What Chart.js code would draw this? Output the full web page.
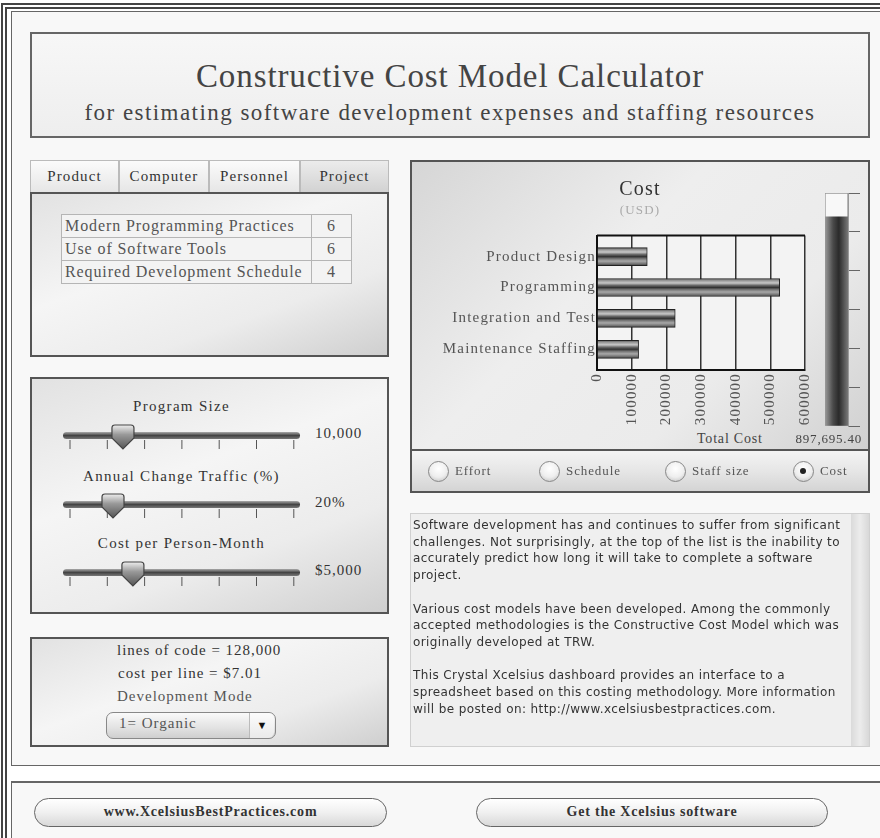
<!DOCTYPE html>
<html>
<head>
<meta charset="utf-8">
<script src="https://cdn.jsdelivr.net/npm/chart.js@4.4.0/dist/chart.umd.min.js"></script>
<style>
  body { margin: 0; width: 880px; height: 838px; overflow: hidden; background: #fff; position: relative;
         font-family: "Liberation Serif", serif; color: #333; }
  .abs { position: absolute; box-sizing: border-box; }
  .panel { border: 2px solid #555; background: linear-gradient(160deg, #e2e2e2 0%, #f5f5f5 40%, #ececec 70%, #cfcfcf 100%); }
  .tab { top: 160px; height: 32px; border: 1px solid #bbb; border-bottom: none; text-align: center; line-height: 31px;
         font-size: 15px; letter-spacing: 1.1px; color: #333; background: linear-gradient(#fbfbfb, #e6e6e6); }
  .tab.on { background: linear-gradient(#ececec, #d2d2d2); }
  table { border-collapse: collapse; }
  td { border: 1px solid #b5b5b5; height: 22px; padding: 0 3px; font-size: 16px; letter-spacing: 0.9px; color: #555; white-space: nowrap; }
  .lbl { font-size: 15px; letter-spacing: 1.3px; color: #333; text-align: center; white-space: nowrap; }
  .val { font-size: 15px; letter-spacing: 1px; color: #333; white-space: nowrap; }
  .radio { width: 21px; height: 21px; border-radius: 50%; border: 1.5px solid #888;
           background: radial-gradient(circle at 50% 35%, #fff 0%, #eee 55%, #bbb 100%); }
  .rlbl { font-size: 13px; letter-spacing: 0.9px; color: #555; white-space: nowrap; }
  .btn { top: 798px; height: 29px; border: 1.5px solid #666; border-radius: 15px; text-align: center; line-height: 26px;
         font-weight: bold; font-size: 14px; letter-spacing: 0.8px; color: #333;
         background: linear-gradient(#ffffff, #f0f0f0 50%, #d8d8d8); }
</style>
</head>
<body>
<div class="abs" style="left:1px;top:3px;width:900px;height:900px;border-left:6px double #444;border-top:6px double #444;"></div>
<div class="abs" style="left:11px;top:11px;width:900px;height:755px;border:1px solid #666;background:#f8f8f8;"></div>
<div class="abs" style="left:11px;top:781px;width:900px;height:100px;border-top:2px solid #666;border-left:1px solid #666;background:#f8f8f8;"></div>

<!-- header -->
<div class="abs" style="left:30px;top:32px;width:840px;height:106px;border:2px solid #666;background:linear-gradient(#f7f7f7,#eeeeee);"></div>
<div class="abs" style="left:30px;top:58px;width:840px;text-align:center;font-size:33px;letter-spacing:0.9px;color:#444;">Constructive Cost Model Calculator</div>
<div class="abs" style="left:30px;top:100px;width:840px;text-align:center;font-size:23px;letter-spacing:1.45px;color:#444;">for estimating software development expenses and staffing resources</div>

<!-- tabs -->
<div class="abs tab" style="left:30px;width:89px;">Product</div>
<div class="abs tab" style="left:119px;width:90px;">Computer</div>
<div class="abs tab" style="left:209px;width:91px;">Personnel</div>
<div class="abs tab on" style="left:300px;width:89px;">Project</div>
<div class="abs panel" style="left:30px;top:192px;width:359px;height:165px;"></div>
<table class="abs" id="drivers" style="left:61px;top:214px;width:291px;background:#f3f3f3;"></table>

<!-- sliders -->
<div class="abs panel" style="left:30px;top:377px;width:359px;height:237px;"></div>
<div id="sliders"></div>

<!-- summary -->
<div class="abs panel" style="left:30px;top:637px;width:359px;height:110px;"></div>
<div class="abs val" style="left:117px;top:642px;">lines of code = 128,000</div>
<div class="abs val" style="left:118px;top:665px;">cost per line = $7.01</div>
<div class="abs val" style="left:117px;top:688px;color:#555;">Development Mode</div>
<div class="abs" style="left:106px;top:712px;width:170px;height:27px;border:1.5px solid #888;border-radius:7px;background:linear-gradient(#fafafa,#e2e2e2 60%,#cfcfcf);"></div>
<div class="abs val" style="left:119px;top:715px;color:#555;">1= Organic</div>
<div class="abs" style="left:249px;top:713px;width:25px;height:25px;border-left:1px solid #bbb;background:linear-gradient(#fcfcfc,#eaeaea);border-radius:0 6px 6px 0;text-align:center;line-height:25px;font-size:11px;color:#111;">&#9660;</div>

<!-- chart panel -->
<div class="abs" style="left:410px;top:160px;width:460px;height:291px;border:2px solid #555;background:linear-gradient(135deg,#d6d6d6 0%,#eeeeee 40%,#ebebeb 70%,#d0d0d0 100%);"></div>
<canvas id="costChart" class="abs" width="458" height="270" style="left:411px;top:160px;"></canvas>
<canvas id="gauge" class="abs" width="55" height="253" style="left:815px;top:183px;"></canvas>
<div class="abs" style="left:697px;top:431px;font-size:14px;letter-spacing:0.8px;color:#444;">Total Cost</div>
<div class="abs" style="left:766px;top:431px;width:96px;text-align:right;font-size:13px;letter-spacing:0.8px;color:#444;">897,695.40</div>

<div class="abs" style="left:410px;top:449px;width:460px;height:44px;border:2px solid #555;background:linear-gradient(#f4f4f4,#e6e6e6 50%,#d4d4d4);"></div>
<div id="radios"></div>

<!-- description -->
<div class="abs" style="left:410px;top:513px;width:460px;height:234px;border:1px solid #d0d0d0;background:#efefef;"></div>
<div class="abs" style="left:851px;top:514px;width:18px;height:232px;background:linear-gradient(90deg,#dadada,#ececec 50%,#d8d8d8);"></div>
<div class="abs" style="left:413px;top:517px;width:436px;font-family:'DejaVu Sans',sans-serif;font-size:12px;letter-spacing:0.4px;line-height:16.7px;color:#333;">
Software development has and continues to suffer from significant challenges. Not surprisingly, at the top of the list is the inability to accurately predict how long it will take to complete a software project.<br><br>
Various cost models have been developed. Among the commonly accepted methodologies is the Constructive Cost Model which was originally developed at TRW.<br><br>
This Crystal Xcelsius dashboard provides an interface to a spreadsheet based on this costing methodology. More information will be posted on: http://www.xcelsiusbestpractices.com.
</div>

<!-- footer -->
<div class="abs btn" style="left:34px;width:353px;">www.XcelsiusBestPractices.com</div>
<div class="abs btn" style="left:476px;width:352px;">Get the Xcelsius software</div>

<script>
const categories = ['Product Design', 'Programming', 'Integration and Test', 'Maintenance Staffing'];
const costValues = [145000, 527000, 225700, 120000];
const costMax = 600000;
const costStep = 100000;
const totalCost = 897695.40;
const gaugeMax = 1000000;
const gaugeTickCount = 7;

const driverNames = ['Modern Programming Practices', 'Use of Software Tools', 'Required Development Schedule'];
const driverValues = [6, 6, 4];

const sliderLabels = ['Program Size', 'Annual Change Traffic (%)', 'Cost per Person-Month'];
const sliderValues = ['10,000', '20%', '$5,000'];
const sliderFractions = [0.253, 0.211, 0.295];

const radioLabels = ['Effort', 'Schedule', 'Staff size', 'Cost'];
const radioSelected = 3;

const serif = 'Liberation Serif';

// driver table
const table = document.getElementById('drivers');
driverNames.forEach((name, i) => {
    table.insertAdjacentHTML('beforeend',
        `<tr><td>${name}</td><td style="width:33px;text-align:center;">${driverValues[i]}</td></tr>`);
});

// sliders
const sliderBox = document.getElementById('sliders');
const labelY = [398, 468, 535];
const trackY = [435, 504, 572];
sliderLabels.forEach((label, i) => {
    const y = trackY[i];
    const thumbX = 63 + 237 * sliderFractions[i];
    let ticks = '';
    for (let k = 0; k < 7; k++) {
        const tx = 7 + k * 37.3;
        ticks += `<line x1="${tx}" y1="5" x2="${tx}" y2="14" stroke="#555" stroke-width="1"/>`;
    }
    sliderBox.insertAdjacentHTML('beforeend', `
        <div class="abs lbl" style="left:63px;top:${labelY[i]}px;width:237px;">${label}</div>
        <svg class="abs" style="left:63px;top:${y - 12}px;" width="240" height="30">
          <defs><linearGradient id="tg${i}" x1="0" y1="0" x2="0" y2="1">
            <stop offset="0" stop-color="#aaa"/><stop offset="0.5" stop-color="#444"/><stop offset="1" stop-color="#777"/></linearGradient>
          <linearGradient id="th${i}" x1="0" y1="0" x2="0" y2="1">
            <stop offset="0" stop-color="#eee"/><stop offset="0.4" stop-color="#999"/><stop offset="1" stop-color="#555"/></linearGradient></defs>
          <g transform="translate(0,12)">${ticks}</g>
          <rect x="0" y="9" width="237" height="7" rx="3.5" fill="url(#tg${i})"/>
          <path transform="translate(${thumbX - 63 - 11},2)" d="M0,3 Q0,0 3,0 L19,0 Q22,0 22,3 L22,13 L11,24 L0,13 Z"
                fill="url(#th${i})" stroke="#444" stroke-width="1.2"/>
        </svg>
        <div class="abs val" style="left:315px;top:${y - 10}px;">${sliderValues[i]}</div>`);
});

// radio buttons
const radioBox = document.getElementById('radios');
const radioX = [428, 539, 665, 793];
radioLabels.forEach((label, i) => {
    const dot = i === radioSelected
        ? '<div class="abs" style="left:6px;top:6px;width:6px;height:6px;border-radius:50%;background:#222;"></div>' : '';
    radioBox.insertAdjacentHTML('beforeend', `
        <div class="abs radio" style="left:${radioX[i]}px;top:461px;">${dot}</div>
        <div class="abs rlbl" style="left:${radioX[i] + 27}px;top:463px;">${label}</div>`);
});

// text spacing like the original flash font
const spacing = {
    id: 'spacing',
    beforeLayout(chart) { chart.ctx.letterSpacing = '1.2px'; },
    beforeDraw(chart) { chart.ctx.letterSpacing = '1.2px'; }
};

const plotFrame = {
    id: 'plotFrame',
    beforeDatasetsDraw(chart) {
        const a = chart.chartArea, ctx = chart.ctx;
        ctx.save();
        ctx.strokeStyle = '#111';
        ctx.lineWidth = 2;
        ctx.beginPath();
        ctx.moveTo(a.left, a.top);
        ctx.lineTo(a.right, a.top);
        ctx.stroke();
        ctx.restore();
    },
    beforeDraw(chart) {
        const a = chart.chartArea, ctx = chart.ctx;
        ctx.save();
        ctx.fillStyle = '#f3f3f3';
        ctx.fillRect(a.left, a.top, a.right - a.left, a.bottom - a.top);
        ctx.restore();
    }
};

function stripes(context) {
    const chart = context.chart;
    const y = chart.scales.y;
    if (!chart.chartArea || !y) return '#777';
    const yc = y.getPixelForValue(context.dataIndex);
    const g = chart.ctx.createLinearGradient(0, yc - 9, 0, yc + 9);
    g.addColorStop(0, '#555');
    g.addColorStop(0.12, '#9a9a9a');
    g.addColorStop(0.25, '#c8c8c8');
    g.addColorStop(0.38, '#6a6a6a');
    g.addColorStop(0.5, '#333');
    g.addColorStop(0.62, '#777');
    g.addColorStop(0.75, '#a8a8a8');
    g.addColorStop(0.88, '#7a7a7a');
    g.addColorStop(1, '#444');
    return g;
}

new Chart(document.getElementById('costChart'), {
    type: 'bar',
    data: {
        labels: categories,
        datasets: [{
            data: costValues,
            backgroundColor: stripes,
            borderColor: '#222',
            borderWidth: { top: 1, bottom: 1, right: 1, left: 0 },
            borderSkipped: false,
            barThickness: 18
        }]
    },
    options: {
        indexAxis: 'y',
        responsive: false,
        animation: false,
        events: [],
        layout: { padding: 0 },
        plugins: {
            legend: { display: false },
            tooltip: { enabled: false },
            title: { display: true, text: 'Cost', color: '#333', font: { family: serif, size: 20, weight: 'normal' }, padding: { top: 18, bottom: 0 } },
            subtitle: { display: true, text: '(USD)', color: '#aaa', font: { family: serif, size: 13 }, padding: { top: 1, bottom: 17 } }
        },
        scales: {
            x: {
                min: 0, max: costMax,
                ticks: { stepSize: costStep, minRotation: 90, maxRotation: 90, color: '#555', font: { family: serif, size: 15 }, padding: 3,
                         callback: v => String(v) },
                grid: { color: '#333', lineWidth: 1.5, drawTicks: false },
                border: { color: '#111', width: 2 },
                afterFit: s => { s.height = 60; }
            },
            y: {
                ticks: { color: '#555', font: { family: serif, size: 15 }, padding: 1 },
                grid: { display: false, drawTicks: false },
                border: { color: '#111', width: 2 },
                afterFit: s => { s.width = 186; },
                // the original spaces its four bars a little tighter than a full band
                afterBuildTicks: s => { s._startValue = -0.68; s._valueRange = 4.35; }
            },
            y2: {
                type: 'linear', position: 'right', min: 0, max: 1,
                grid: { display: false }, ticks: { display: false }, border: { display: false },
                afterFit: s => { s.width = 64; }
            }
        }
    },
    plugins: [spacing, plotFrame]
});

function gaugeFill(context) {
    const a = context.chart.chartArea;
    if (!a) return '#444';
    const g = context.chart.ctx.createLinearGradient(a.left, 0, a.right, 0);
    g.addColorStop(0, '#9a9a9a');
    g.addColorStop(0.35, '#4a4a4a');
    g.addColorStop(0.6, '#2a2a2a');
    g.addColorStop(1, '#777');
    return g;
}

new Chart(document.getElementById('gauge'), {
    type: 'bar',
    data: {
        labels: ['Total Cost'],
        datasets: [
            { data: [totalCost], backgroundColor: gaugeFill, borderWidth: 0, barPercentage: 1, categoryPercentage: 1, grouped: false },
            { data: [gaugeMax], backgroundColor: '#f8f8f8', borderColor: '#999', borderWidth: 1, borderSkipped: false, barPercentage: 1, categoryPercentage: 1, grouped: false }
        ]
    },
    options: {
        responsive: false,
        animation: false,
        events: [],
        layout: { padding: { left: 10, top: 10, bottom: 10, right: 0 } },
        plugins: { legend: { display: false }, tooltip: { enabled: false } },
        scales: {
            x: { display: false },
            y: {
                position: 'right', min: 0, max: gaugeMax,
                ticks: { display: false, count: gaugeTickCount },
                grid: { drawOnChartArea: false, tickLength: 12, color: '#666' },
                border: { display: true, color: '#999' },
                afterFit: s => { s.width = 22; }
            }
        }
    }
});
</script>
</body>
</html>
